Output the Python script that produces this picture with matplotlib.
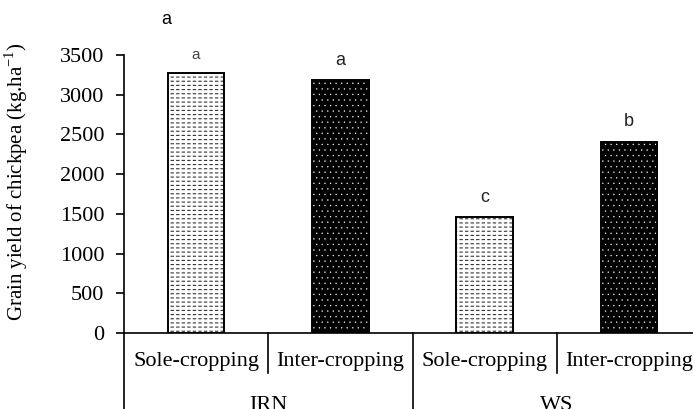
import matplotlib
matplotlib.use("Agg")
import matplotlib.pyplot as plt
import numpy as np

# data
groups = ["IRN", "WS"]
systems = ["Sole-cropping", "Inter-cropping", "Sole-cropping", "Inter-cropping"]
sole_yield = [3270, 1460]     # IRN, WS
inter_yield = [3190, 2410]    # IRN, WS
letters = ["a", "a", "c", "b"]
yticks = [0, 500, 1000, 1500, 2000, 2500, 3000, 3500]

serif = "Liberation Serif"
sans = "Liberation Sans"

fig = plt.figure(figsize=(6.93, 4.09), dpi=100)
W, H = 693, 409
# axes box in pixels: left 124, right ~701 (runs past the edge), zero at 333, top at 55
ax = fig.add_axes([124 / W, (H - 333) / H, (701 - 124) / W, (333 - 55) / H])

x_sole = np.array([0, 2])
x_inter = np.array([1, 3])
bw = 0.39

# sole-cropping: white bar with dashed horizontal lines
plt.rcParams["hatch.linewidth"] = 0.8
ax.bar(x_sole, sole_yield, bw, color="white", edgecolor="#333333", hatch="----", lw=0)
plt.rcParams["hatch.linewidth"] = 1.6
ax.bar(x_sole, sole_yield, bw, fill=False, edgecolor="white", hatch="|||", lw=0)
ax.bar(x_sole, sole_yield, bw, fill=False, edgecolor="black", lw=1.4)

# inter-cropping: black bar with small white dots
plt.rcParams["hatch.linewidth"] = 0.2
ax.bar(x_inter, inter_yield, bw, color="black", edgecolor="white", hatch="...", lw=0)
ax.bar(x_inter, inter_yield, bw, fill=False, edgecolor="black", lw=1.4)

# significance letters
vals = [sole_yield[0], inter_yield[0], sole_yield[1], inter_yield[1]]
sizes = [11, 13, 13, 13]
for i in range(4):
    ax.text(i, vals[i] + 140, letters[i], ha="center", va="bottom",
            fontsize=sizes[i], family=sans, color="#222222" if i else "#444444")
fig.text(166 / W, 1 - 20 / H, "a", ha="center", va="center", fontsize=13, family=sans)

ax.set_xlim(-0.5, 3.5)
ax.set_ylim(0, 3500)
ax.set_yticks(yticks)
ax.set_yticklabels([str(t) for t in yticks], family=serif, fontsize=16)
ax.tick_params(axis="y", length=6, width=1.2, pad=8)
ax.set_xticks([])
for s in ["top", "right"]:
    ax.spines[s].set_visible(False)
ax.spines["left"].set_linewidth(1.2)
ax.spines["bottom"].set_linewidth(1.2)

ax.set_ylabel("Grain yield of chickpea (kg.ha$^{\\mathregular{-1}}$)", family=serif,
              fontsize=15, va="center")
ax.yaxis.set_label_coords(-0.186, 0.545)

# category axis: labels and separators below the plot
tr = ax.get_xaxis_transform()
for i, lab in enumerate(systems):
    ax.text(i, -0.104, lab, transform=tr, ha="center", va="center",
            family=serif, fontsize=16, clip_on=False)
for j, g in enumerate(groups):
    ax.text(2 * j + 0.5, -0.262, g, transform=tr, ha="center", va="center",
            family=serif, fontsize=16, clip_on=False)
for xs in [0.5, 2.5]:
    ax.plot([xs, xs], [0, -0.144], transform=tr, color="black", lw=1.2, clip_on=False)
for xs in [-0.5, 1.5, 3.5]:
    ax.plot([xs, xs], [0, -0.35], transform=tr, color="black", lw=1.2, clip_on=False)

fig.savefig("out.png", dpi=100)
